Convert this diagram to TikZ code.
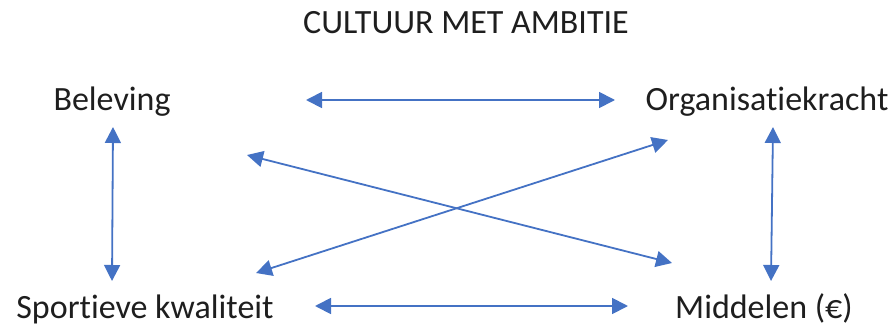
\documentclass[tikz,border=0pt]{standalone}
\usepackage{fontspec}
\setmainfont[RawFeature={-liga;-dlig;-calt;-clig}]{Carlito}
\usetikzlibrary{arrows.meta}
\definecolor{arrowblue}{HTML}{4472C4}
\definecolor{txt}{HTML}{1E1E1E}
\tikzset{
  lbl/.style={anchor=base, inner sep=0pt, text=txt, font=\fontsize{34}{40}\selectfont},
  link/.style={draw=arrowblue, line width=1.8pt, {Triangle[length=16pt,width=16pt]}-{Triangle[length=16pt,width=16pt]}}
}
\begin{document}
\begin{tikzpicture}[x=1pt,y=-1pt]
\useasboundingbox (0,0) rectangle (896,329);
\node[lbl] (title) at (466,34) {CULTUUR MET AMBITIE};
\node[lbl] (bel) at (112,110) {Beleving};
\node[lbl] (org) at (767,110) {Organisatiekracht};
\node[lbl] (spo) at (145,318) {Sportieve kwaliteit};
\node[lbl] (mid) at (764,318) {Middelen (€)};
% arrow end points
\coordinate (t1) at (306,100);
\coordinate (t2) at (615,100);
\coordinate (b1) at (315,306);
\coordinate (b2) at (628,306);
\coordinate (l1) at (113,127);
\coordinate (l2) at (112,281);
\coordinate (r1) at (773,127);
\coordinate (r2) at (771,281);
\coordinate (d1a) at (247,155);
\coordinate (d1b) at (672,263);
\coordinate (d2a) at (256,273);
\coordinate (d2b) at (668,140);
\draw[link] (t1) -- (t2);
\draw[link] (b1) -- (b2);
\draw[link] (l1) -- (l2);
\draw[link] (r1) -- (r2);
\draw[link] (d1a) -- (d1b);
\draw[link] (d2a) -- (d2b);
\end{tikzpicture}
\end{document}
